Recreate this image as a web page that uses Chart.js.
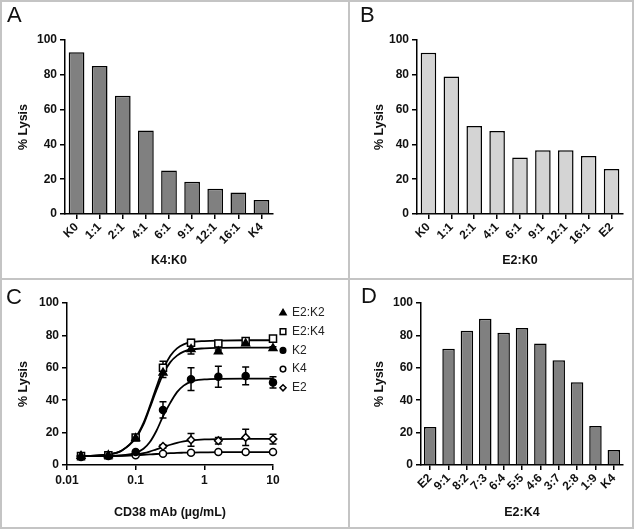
<!DOCTYPE html>
<html>
<head>
<meta charset="utf-8">
<script src="https://cdn.jsdelivr.net/npm/chart.js@4/dist/chart.umd.min.js"></script>
<style>
  html, body { margin: 0; padding: 0; background: #fff; }
  #fig { position: relative; width: 634px; height: 529px; overflow: hidden; }
  canvas { position: absolute; }
  .line { position: absolute; background: #c4c4c4; }
  .letter { position: absolute; font: 22px "Liberation Sans", Arial, sans-serif; line-height: 22px; color: #111; }
</style>
</head>
<body>
<div id="fig">
  <canvas id="chartA" width="349" height="279" style="left:0;top:0"></canvas>
  <canvas id="chartB" width="285" height="279" style="left:349px;top:0"></canvas>
  <canvas id="chartC" width="349" height="250" style="left:0;top:279px"></canvas>
  <canvas id="chartD" width="285" height="250" style="left:349px;top:279px"></canvas>

  <div class="line" style="left:0;top:0;width:634px;height:2px"></div>
  <div class="line" style="left:0;top:527px;width:634px;height:2px"></div>
  <div class="line" style="left:0;top:0;width:2px;height:529px"></div>
  <div class="line" style="left:632px;top:0;width:2px;height:529px"></div>
  <div class="line" style="left:348px;top:0;width:2px;height:529px"></div>
  <div class="line" style="left:0;top:278px;width:634px;height:2px"></div>

  <div class="letter" style="left:7px;top:4px">A</div>
  <div class="letter" style="left:360px;top:4px">B</div>
  <div class="letter" style="left:6px;top:286px">C</div>
  <div class="letter" style="left:361px;top:285px">D</div>
</div>
<script>
// panel A: K4:K0 ratios
const labelsA = ['K0', '1:1', '2:1', '4:1', '6:1', '9:1', '12:1', '16:1', 'K4'];
const lysisA = [93, 85, 68, 48, 25, 18.5, 14.5, 12.3, 8];

// panel B: E2:K0 ratios
const labelsB = ['K0', '1:1', '2:1', '4:1', '6:1', '9:1', '12:1', '16:1', 'E2'];
const lysisB = [92.7, 79, 50.6, 47.7, 32.4, 36.6, 36.6, 33.3, 25.9];

// panel D: E2:K4 ratios
const labelsD = ['E2', '9:1', '8:2', '7:3', '6:4', '5:5', '4:6', '3:7', '2:8', '1:9', 'K4'];
const lysisD = [23.5, 71.8, 82.9, 90.3, 81.6, 84.5, 75, 64.7, 51.1, 24.1, 9.3];

// panel C: dose response, CD38 mAb (ug/mL)
const doses = [0.016, 0.04, 0.1, 0.25, 0.64, 1.6, 4, 10];
const e2k2 = [5.5, 6, 16.5, 57, 71.5, 70, 75, 72];
const e2k2Err = [0.5, 0.5, 1, 3, 3, 1, 1, 1];
const e2k4 = [5.5, 6, 17, 60, 75.5, 75, 76.5, 78];
const e2k4Err = [0.5, 0.5, 1, 4, 2, 1, 1, 1];
const k2 = [5.5, 6, 8, 34, 53, 54.5, 55, 51];
const k2Err = [0.5, 1, 1, 5, 7, 6.5, 5.5, 3.5];
const k4 = [5, 5.5, 6, 7, 7.5, 8, 8, 8];
const k4Err = [0.3, 0.5, 0.5, 0.5, 0.5, 0.5, 0.5, 0.5];
const e2 = [5.5, 6, 6.5, 11.5, 15.5, 15, 17, 16];
const e2Err = [0.5, 0.5, 0.5, 1, 4, 2, 5, 3];

// fitted curves
const fitDoses = [0.016, 0.025, 0.04, 0.063, 0.1, 0.13, 0.16, 0.2, 0.25, 0.32, 0.4, 0.5, 0.64, 1, 1.6, 4, 10];
const fitE2K4 = [5.5, 5.8, 6.5, 9, 17, 26, 36, 48, 59, 67.5, 72, 74.5, 75.8, 76.5, 76.8, 77, 77];
const fitE2K2 = [5.5, 5.8, 6.5, 9, 16.5, 25, 35, 46, 56, 63.5, 67.5, 70, 71.3, 72, 72.3, 72.5, 72.5];
const fitK2 = [5.5, 5.5, 5.6, 6, 7.5, 10, 14, 21, 30, 38.5, 45, 49, 51.5, 52.8, 53.2, 53.3, 53.3];
const fitE2 = [5.5, 5.5, 5.6, 5.8, 6.5, 7.3, 8.3, 9.7, 11, 12.5, 13.7, 14.6, 15.2, 15.8, 16, 16.1, 16.1];
const fitK4 = [5.5, 5.5, 5.6, 5.7, 6, 6.3, 6.5, 6.8, 7, 7.3, 7.5, 7.6, 7.7, 7.8, 7.9, 8, 8];

const FAMILY = '"Liberation Sans", Arial, sans-serif';
const tickFont = { family: FAMILY, size: 12, weight: 'bold' };
const titleFont = { family: FAMILY, size: 12.5, weight: 'bold' };
const INK = '#111';

function yAxis(width, titlePad) {
  return {
    min: 0, max: 100,
    ticks: { stepSize: 20, font: tickFont, color: INK, padding: 3 },
    grid: { drawOnChartArea: false, tickLength: 5, color: '#000', lineWidth: 1.5 },
    border: { display: true, color: '#000', width: 1.5 },
    title: { display: true, text: '% Lysis', font: titleFont, color: INK, padding: { top: titlePad, bottom: 0 } },
    afterFit: s => { s.width = width; }
  };
}

function barChart(id, labels, values, fill, cfg) {
  return new Chart(document.getElementById(id), {
    type: 'bar',
    data: {
      labels: labels,
      datasets: [{
        data: values,
        backgroundColor: fill,
        borderColor: '#000',
        borderWidth: 1.5,
        borderSkipped: 'bottom',
        categoryPercentage: 1,
        barPercentage: 0.68
      }]
    },
    options: {
      responsive: false,
      animation: false,
      layout: { padding: { left: 0, top: cfg.top, right: cfg.right, bottom: 0 } },
      plugins: { legend: { display: false }, tooltip: { enabled: false } },
      scales: {
        x: {
          offset: true,
          grid: { drawOnChartArea: false, tickLength: 5, color: '#000', lineWidth: 1.5, offset: false },
          border: { display: true, color: '#000', width: 1.5 },
          ticks: { minRotation: 45, maxRotation: 45, autoSkip: false, font: tickFont, color: INK, padding: 1 },
          title: { display: true, text: cfg.xTitle, font: titleFont, color: INK, padding: { top: 0, bottom: cfg.xTitlePad } },
          afterFit: s => { s.height = cfg.xHeight; }
        },
        y: yAxis(cfg.yWidth, cfg.yTitlePad)
      }
    }
  });
}

barChart('chartA', labelsA, lysisA, '#808080',
  { top: 40, right: 76, xHeight: 65, xTitle: 'K4:K0', xTitlePad: 11, yWidth: 65, yTitlePad: 16 });
barChart('chartB', labelsB, lysisB, '#d4d4d4',
  { top: 40, right: 11, xHeight: 65, xTitle: 'E2:K0', xTitlePad: 11, yWidth: 68, yTitlePad: 23 });
barChart('chartD', labelsD, lysisD, '#808080',
  { top: 24, right: 11, xHeight: 64, xTitle: 'E2:K4', xTitlePad: 9, yWidth: 72, yTitlePad: 23 });

// panel C
function pts(xs, ys) { return xs.map((x, i) => ({ x: x, y: ys[i] })); }

const series = [
  { label: 'E2:K2', y: e2k2, err: e2k2Err, fit: fitE2K2, style: 'triangle', r: 4.5, bg: '#000' },
  { label: 'E2:K4', y: e2k4, err: e2k4Err, fit: fitE2K4, style: 'rect', r: 5, bg: '#fff' },
  { label: 'K2', y: k2, err: k2Err, fit: fitK2, style: 'circle', r: 3.5, bg: '#000' },
  { label: 'K4', y: k4, err: k4Err, fit: fitK4, style: 'circle', r: 3.5, bg: '#fff' },
  { label: 'E2', y: e2, err: e2Err, fit: fitE2, style: 'rectRot', r: 3.8, bg: '#fff' }
];

const datasetsC = [];
series.forEach((s, i) => {
  datasetsC.push({
    label: s.label,
    data: pts(doses, s.y),
    errors: s.err,
    legendRow: i,
    showLine: false,
    clip: false,
    pointStyle: s.style,
    pointRadius: s.r,
    pointBackgroundColor: s.bg,
    pointBorderColor: '#000',
    pointBorderWidth: 1.5,
    order: 0
  });
});
series.forEach(s => {
  datasetsC.push({
    label: s.label + ' fit',
    data: pts(fitDoses, s.fit),
    borderColor: '#000',
    borderWidth: 1.8,
    pointRadius: 0,
    clip: false,
    cubicInterpolationMode: 'monotone',
    fill: false,
    order: 1
  });
});

const errorBars = {
  id: 'errorBars',
  beforeDatasetsDraw(chart) {
    const ctx = chart.ctx;
    const ys = chart.scales.y;
    chart.data.datasets.forEach((ds, i) => {
      if (!ds.errors) return;
      const meta = chart.getDatasetMeta(i);
      meta.data.forEach((p, j) => {
        const e = ds.errors[j];
        const v = ds.data[j].y;
        const top = ys.getPixelForValue(v + e);
        const bot = ys.getPixelForValue(v - e);
        ctx.save();
        ctx.strokeStyle = '#000';
        ctx.lineWidth = 1.5;
        ctx.beginPath();
        ctx.moveTo(p.x, top); ctx.lineTo(p.x, bot);
        ctx.moveTo(p.x - 3.5, top); ctx.lineTo(p.x + 3.5, top);
        ctx.moveTo(p.x - 3.5, bot); ctx.lineTo(p.x + 3.5, bot);
        ctx.stroke();
        ctx.restore();
      });
    });
  }
};

const sideLegend = {
  id: 'sideLegend',
  afterDraw(chart) {
    const ctx = chart.ctx;
    chart.data.datasets.forEach(ds => {
      if (ds.legendRow === undefined) return;
      const x = 283, y = 34 + ds.legendRow * 18.7;
      ctx.save();
      ctx.fillStyle = ds.pointBackgroundColor;
      ctx.strokeStyle = ds.pointBorderColor;
      ctx.lineWidth = ds.pointBorderWidth;
      Chart.helpers.drawPoint(ctx, {
        pointStyle: ds.pointStyle, radius: ds.pointRadius * 0.8, rotation: 0, borderWidth: ds.pointBorderWidth
      }, x, y);
      ctx.fillStyle = '#222';
      ctx.font = '12px ' + FAMILY;
      ctx.textBaseline = 'middle';
      ctx.fillText(ds.label, x + 9, y);
      ctx.restore();
    });
  }
};

new Chart(document.getElementById('chartC'), {
  type: 'line',
  data: { datasets: datasetsC },
  plugins: [errorBars, sideLegend],
  options: {
    responsive: false,
    animation: false,
    layout: { padding: { left: 0, top: 24, right: 76, bottom: 0 } },
    plugins: { legend: { display: false }, tooltip: { enabled: false } },
    scales: {
      x: {
        type: 'logarithmic',
        min: 0.01, max: 10,
        afterBuildTicks: s => { s.ticks = [0.01, 0.1, 1, 10].map(v => ({ value: v })); },
        ticks: { font: tickFont, color: INK, padding: 3, maxRotation: 0, callback: v => String(v) },
        grid: { drawOnChartArea: false, tickLength: 5, color: '#000', lineWidth: 1.5 },
        border: { display: true, color: '#000', width: 1.5 },
        title: { display: true, text: 'CD38 mAb (µg/mL)', font: titleFont, color: INK, padding: { top: 0, bottom: 9 } },
        afterFit: s => { s.height = 64; }
      },
      y: yAxis(67, 16)
    }
  }
});
</script>
</body>
</html>
